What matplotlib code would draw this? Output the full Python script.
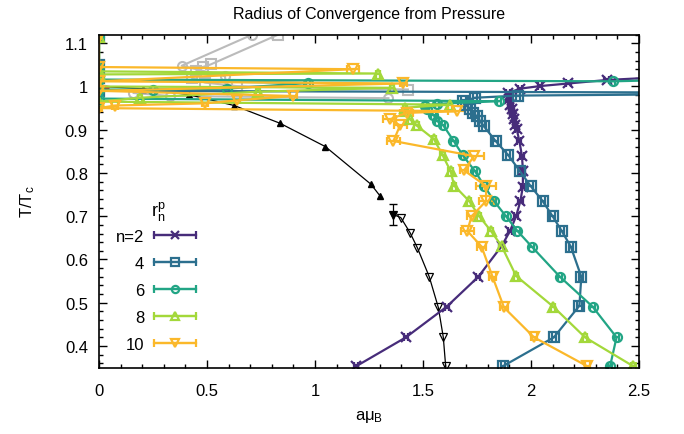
import matplotlib
matplotlib.use("Agg")
import matplotlib.pyplot as plt
from matplotlib.ticker import MultipleLocator, FuncFormatter
from matplotlib.container import ErrorbarContainer
from matplotlib.legend_handler import HandlerErrorbar

plt.rcParams['font.family'] = ['Liberation Sans', 'DejaVu Sans']
plt.rcParams['mathtext.fontset'] = 'custom'
plt.rcParams['mathtext.rm'] = 'Liberation Sans'
plt.rcParams['mathtext.it'] = 'Liberation Sans:italic'

# ---------------- data ----------------
# n = 2
x2 = [1.19, 1.421, 1.610, 1.756, 1.864, 1.903, 1.931, 1.951, 1.962, 1.963, 1.958, 1.946, 1.934,
      1.927, 1.921, 1.915, 1.910, 1.905, 1.900, 1.897, 1.895, 1.949, 2.042, 2.173, 2.350, 2.62]
y2 = [0.353, 0.420, 0.491, 0.560, 0.631, 0.666, 0.700, 0.735, 0.768, 0.804, 0.840, 0.874, 0.901,
      0.912, 0.924, 0.936, 0.947, 0.958, 0.970, 0.978, 0.985, 0.995, 1.001, 1.007, 1.015, 1.022]
e2 = [0.01] * len(x2)

# n = 4
x4 = [1.869, 2.106, 2.224, 2.233, 2.184, 2.142, 2.100, 2.054, 1.998, 1.949, 1.895, 1.836, 1.782,
      1.764, 1.748, 1.733, 1.718, 1.699, 1.687, 1.741, 1.941, 3.5, 0.0, 0.0, 0.0, 0.0]
y4 = [0.353, 0.420, 0.493, 0.560, 0.630, 0.666, 0.700, 0.735, 0.770, 0.804, 0.841, 0.874, 0.908,
      0.920, 0.931, 0.939, 0.948, 0.958, 0.966, 0.974, 0.979, 0.985, 0.990, 1.020, 1.050, 1.115]
e4 = [0.01] * len(x4)

# n = 6
x6 = [2.366, 2.396, 2.285, 2.134, 2.003, 1.937, 1.884, 1.829, 1.784, 1.741, 1.684, 1.641, 1.594,
      1.566, 1.548, 1.517, 1.509, 1.566, 1.853, 0.0, 0.0, 0.0, 0.0, 0.251, 0.591, 0.969, 0.0, 2.38, 2.9]
y6 = [0.353, 0.420, 0.491, 0.560, 0.630, 0.666, 0.700, 0.735, 0.770, 0.804, 0.841, 0.875, 0.910,
      0.920, 0.935, 0.947, 0.955, 0.960, 0.966, 0.972, 1.115, 1.045, 0.993, 0.993, 0.995, 1.008,
      1.016, 1.012, 1.018]
e6 = [0.01] * len(x6)

# n = 8
x8 = [2.474, 2.250, 2.103, 1.931, 1.864, 1.813, 1.760, 1.714, 1.644, 1.628, 1.591, 1.551, 1.470,
      1.440, 1.421, 1.417, 1.625, 0.0, 0.19, 0.737, 1.355, 0.0, 0.0, 1.293, 0.0, 0.0]
y8 = [0.353, 0.420, 0.491, 0.562, 0.631, 0.667, 0.700, 0.735, 0.771, 0.804, 0.841, 0.878, 0.910,
      0.924, 0.943, 0.951, 0.958, 0.965, 0.974, 0.988, 0.997, 1.000, 1.028, 1.030, 1.035, 1.115]
e8 = [0.01] * len(x8)

# n = 10
x10 = [2.261, 2.014, 1.875, 1.822, 1.771, 1.705, 1.725, 1.792, 1.792, 1.690, 1.736, 1.363, 1.394,
       1.347, 1.424, 1.656, 0.0, 0.074, 0.49, 0.64, 0.90, 0.0, 1.409, 0.0, 1.176, 0.0, 0.0]
y10 = [0.353, 0.420, 0.489, 0.560, 0.630, 0.666, 0.700, 0.735, 0.770, 0.806, 0.839, 0.874, 0.910,
       0.924, 0.939, 0.943, 0.950, 0.956, 0.961, 0.968, 0.978, 0.990, 1.007, 1.012, 1.040, 1.045, 1.115]
e10 = [0.01, 0.015, 0.02, 0.015, 0.02, 0.03, 0.02, 0.035, 0.045, 0.02, 0.045, 0.03, 0.03,
       0.03, 0.03, 0.04, 0.015, 0.015, 0.015, 0.015, 0.015, 0.015, 0.015, 0.015, 0.03, 0.015, 0.015]

# grey estimators
xg_c = [0.71, 0.383, 0.583, 0.59, 0.159, 0.329, 1.34]
yg_c = [1.12, 1.048, 1.024, 0.997, 0.985, 0.978, 0.973]
xg_s = [0.83, 0.517, 0.48, 0.449, 0.429, 0.491, 0.637, 1.43]
yg_s = [1.12, 1.051, 1.045, 1.035, 1.020, 1.009, 1.001, 0.993]

# black reference line
xb1 = [0.0, 0.205, 0.417, 0.626, 0.838, 1.048, 1.259, 1.301]
yb1 = [1.0, 0.995, 0.981, 0.956, 0.915, 0.861, 0.774, 0.747]
xb_err = [1.362]
yb_err = [0.704]
eb_err = [0.024]
xb2 = [1.362, 1.397, 1.440, 1.474, 1.529, 1.571, 1.594, 1.605]
yb2 = [0.704, 0.697, 0.662, 0.627, 0.560, 0.489, 0.420, 0.353]

# red marker near origin
xr = [0.0, 0.045]
yr = [0.998, 0.998]

labels = ['n=2', '4', '6', '8', '10']
colors = ['#472c7a', '#2c6f8e', '#22a585', '#a3d83a', '#fbb82a']
markers = ['x', 's', 'o', '^', 'v']

# ---------------- figure ----------------
fig = plt.figure(figsize=(6.84, 4.35), dpi=100)
ax = fig.add_axes([99/684, 1 - 368.6/435, 540/684, 333/435])

ax.plot(xg_c, yg_c, color='#bbbbbb', lw=1.5, marker='o', ms=6.5, mfc='none', mew=1.5)
ax.plot(xg_s, yg_s, color='#bbbbbb', lw=1.5, marker='s', ms=6.5, mfc='none', mew=1.5)

series = [(x2, y2, e2), (x4, y4, e4), (x6, y6, e6), (x8, y8, e8), (x10, y10, e10)]
handles = []
for (xs, ys, es), lab, c, m in zip(series, labels, colors, markers):
    h = ax.errorbar(xs, ys, xerr=es, color=c, lw=1.6, marker=m, ms=6.5, mfc='none', mew=1.6,
                    capsize=3, elinewidth=1.6, capthick=1.6, label=lab)
    handles.append(h)

ax.plot(xb1, yb1, color='black', lw=0.9, marker='^', ms=5)
ax.plot(xb2, yb2, color='black', lw=0.9, marker='v', ms=5.5, mfc='none', mew=0.9)
ax.errorbar(xb_err, yb_err, yerr=eb_err, color='black', lw=0.9, marker='v', ms=5,
            capsize=3, elinewidth=0.9)
ax.plot(xr, yr, color='red', lw=2.5, solid_capstyle='butt')

ax.set_xlim(0, 2.5)
ax.set_ylim(0.35, 1.12)
ax.xaxis.set_major_locator(MultipleLocator(0.5))
ax.xaxis.set_minor_locator(MultipleLocator(0.1))
ax.yaxis.set_major_locator(MultipleLocator(0.1))
ax.yaxis.set_minor_locator(MultipleLocator(0.02))
fmt = FuncFormatter(lambda v, p: '%g' % round(v, 3))
ax.xaxis.set_major_formatter(fmt)
ax.yaxis.set_major_formatter(fmt)
ax.tick_params(which='both', direction='in', top=True, right=True, labelsize=12, width=1)
ax.tick_params(which='major', length=6)
ax.tick_params(axis='x', which='major', pad=11)
ax.tick_params(axis='y', which='major', pad=8)
ax.tick_params(which='minor', length=3)
for s in ax.spines.values():
    s.set_linewidth(1.2)

ax.set_xlabel('aμ$_{\\mathregular{B}}$', fontsize=12, labelpad=7)
ax.set_ylabel('T/T$_{\\mathregular{c}}$', fontsize=12, labelpad=20)
ax.set_title('Radius of Convergence from Pressure', fontsize=11.5, pad=12)

leg = ax.legend(handles=handles, labels=labels, loc='upper right',
                bbox_to_anchor=((196 - 99) / 540, (368.6 - 230) / 333),
                frameon=False, markerfirst=False, fontsize=12, handlelength=2.5,
                handletextpad=0.6, labelspacing=0.72, borderpad=0, borderaxespad=0,
                numpoints=1, markerscale=0.8,
                handler_map={ErrorbarContainer: HandlerErrorbar(xerr_size=1.25)})
ax.text((158 - 99) / 540, (368.6 - 212) / 333, '$\\mathregular{r^p_n}$', transform=ax.transAxes,
        ha='center', va='center', fontsize=13)

fig.savefig('out.png', dpi=100)
